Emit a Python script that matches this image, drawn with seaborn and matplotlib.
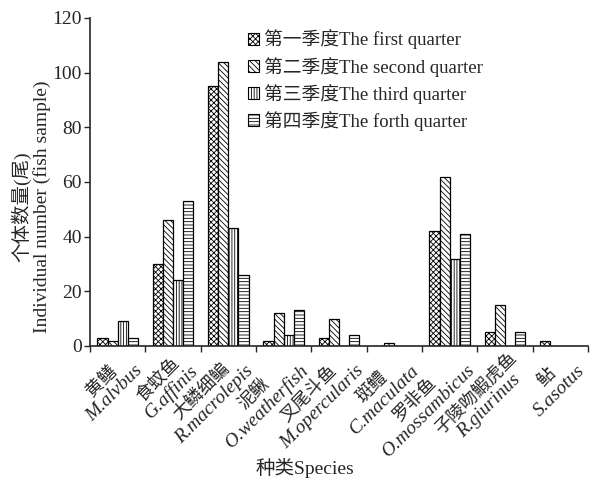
import matplotlib
matplotlib.use("Agg")
import matplotlib.pyplot as plt
import seaborn as sns
import pandas as pd
import numpy as np
from matplotlib.patches import Patch
from matplotlib.transforms import IdentityTransform

# ---- data ----
species_cn = ["黄鳝", "食蚊鱼", "大鳞细鳊", "泥鳅", "叉尾斗鱼", "斑鳢", "罗非鱼", "子陵吻鰕虎鱼", "鲇"]
species_lat = ["M.alvbus", "G.affinis", "R.macrolepis", "O.weatherfish", "M.opercularis",
               "C.maculata", "O.mossambicus", "R.giurinus", "S.asotus"]
quarters = ["第一季度The first quarter", "第二季度The second quarter",
            "第三季度The third quarter", "第四季度The forth quarter"]
q1 = [3, 30, 95, 2, 3, 0, 42, 5, 2]
q2 = [2, 46, 104, 12, 10, 1, 62, 15, 0]
q3 = [9, 24, 43, 4, 0, 0, 32, 0, 0]
q4 = [3, 53, 26, 13, 4, 0, 41, 5, 0]
yticks = [0, 20, 40, 60, 80, 100, 120]

sns.set_style("ticks")
plt.rcParams["font.family"] = ["Liberation Serif", "Noto Sans CJK SC"]
plt.rcParams["hatch.linewidth"] = 0.6

rows = []
for q, vals in zip(quarters, [q1, q2, q3, q4]):
    for s, v in zip(species_cn, vals):
        rows.append({"species": s, "quarter": q, "count": v})
df = pd.DataFrame(rows)

fig = plt.figure(figsize=(5.93, 4.87), dpi=100)
H = 487
ax = fig.add_axes([90 / 593, 1 - 346 / H, (588 - 90) / 593, (346 - 18) / H])

sns.barplot(data=df, x="species", y="count", hue="quarter", order=species_cn,
            hue_order=quarters, palette=["white"] * 4, edgecolor="black",
            linewidth=0.9, width=0.73, legend=False, ax=ax)

hatches = ["xxxxxx", "\\\\\\\\\\\\", "||||||", "-----"]
for cont, h in zip(ax.containers, hatches):
    for bar in cont:
        bar.set_hatch(h)

ax.set_xlim(-0.5, len(species_cn) - 0.5)
ax.set_ylim(0, 120)
ax.set_yticks(yticks)
ax.set_yticklabels([str(t) for t in yticks], fontsize=14)
ax.tick_params(axis="y", direction="out", length=4, width=1, pad=2)
ax.set_xticks([i + 0.5 for i in range(-1, len(species_cn))])
ax.set_xticklabels([])
ax.tick_params(axis="x", direction="out", length=4, width=1)
sns.despine(ax=ax)
for sp in ["left", "bottom"]:
    ax.spines[sp].set_linewidth(1.2)
ax.set_xlabel("")
ax.set_ylabel("")

# rotated two-line species labels (Chinese line centred above italic Latin line)
renderer = fig.canvas.get_renderer()
c = np.cos(np.radians(45))
along = np.array([c, c])      # display coords, y up
perp = np.array([c, -c])      # towards lower right
FS_LAT, FS_CN = 14, 13


def width(s, fs, **kw):
    t = fig.text(0, 0, s, fontsize=fs, **kw)
    w = t.get_window_extent(renderer).width
    t.remove()
    return w


for i, (cn, lat) in enumerate(zip(species_cn, species_lat)):
    cx, cy = ax.transData.transform((i, 0))
    A = np.array([cx + 3, cy - 3])          # block top-right corner
    W = max(width(lat, FS_LAT, style="italic"), width(cn, FS_CN))
    pc = A - along * W / 2 + perp * 9
    pl = pc + perp * 18
    fig.text(pl[0], pl[1], lat, transform=IdentityTransform(), fontsize=FS_LAT, style="italic",
             rotation=45, rotation_mode="anchor", ha="center", va="center")
    fig.text(pc[0], pc[1], cn, transform=IdentityTransform(), fontsize=FS_CN,
             rotation=45, rotation_mode="anchor", ha="center", va="center")

# axis titles
fig.text(31 / 593, 1 - 207 / H, "个体数量(尾)\nIndividual number (fish sample)",
         rotation=90, ha="center", va="center", fontsize=14, linespacing=1.1,
         multialignment="center")
fig.text(305 / 593, 1 - 468 / H, "种类Species", ha="center", va="center", fontsize=14)

handles = [Patch(facecolor="white", edgecolor="black", hatch=h, linewidth=0.8) for h in hatches]
fig.legend(handles, quarters, loc="upper left", bbox_to_anchor=(240 / 593, 1 - 22 / H),
           frameon=False, fontsize=13.5, handlelength=0.6, handleheight=0.6,
           handletextpad=0.3, labelspacing=0.38, borderaxespad=0)

fig.savefig("out.png", dpi=100)
